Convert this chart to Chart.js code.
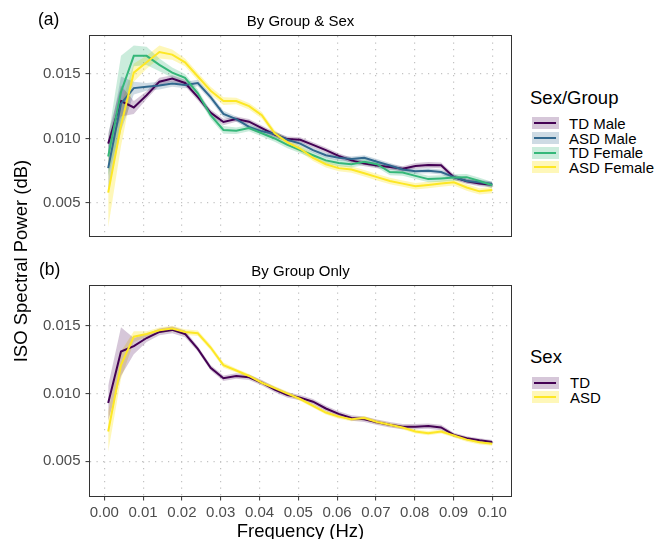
<!DOCTYPE html>
<html>
<head>
<meta charset="utf-8">
<script src="https://cdn.jsdelivr.net/npm/chart.js@4"></script>
<style>
  html, body { margin: 0; padding: 0; background: #fff; overflow: hidden; }
  #wrap { position: relative; width: 657px; height: 539px; overflow: hidden; font-family: "Liberation Sans", Arial, sans-serif; }
  canvas { position: absolute; left: 0; }
  .txt { position: absolute; white-space: nowrap; color: #000; }
  .key { position: absolute; width: 27px; height: 12px; }
  .key span { position: absolute; left: 2px; right: 3px; top: 5px; height: 2px; }
</style>
</head>
<body>
<div id="wrap">
  <canvas id="chartA" width="520" height="250" style="top:0"></canvas>
  <canvas id="chartB" width="520" height="285" style="top:260px"></canvas>

  <div class="txt" style="left:38px; top:11px; font-size:17.5px; line-height:17.5px">(a)</div>
  <div class="txt" style="left:39px; top:261px; font-size:17.5px; line-height:17.5px">(b)</div>
  <div class="txt" style="left:300.5px; top:13px; font-size:15px; line-height:15px; transform:translateX(-50%)">By Group &amp; Sex</div>
  <div class="txt" style="left:300.5px; top:263px; font-size:15px; line-height:15px; transform:translateX(-50%)">By Group Only</div>
  <div class="txt" style="left:20.5px; top:261px; font-size:18.5px; line-height:18.5px; transform:translate(-50%,-50%) rotate(-90deg)">ISO Spectral Power (dB)</div>
</div>

<script>
// frequency bins (Hz)
const freq = [0.0010, 0.0043, 0.0076, 0.0109, 0.0142, 0.0175, 0.0208, 0.0241, 0.0274, 0.0307,
              0.0340, 0.0373, 0.0406, 0.0439, 0.0472, 0.0505, 0.0538, 0.0571, 0.0604, 0.0637,
              0.0670, 0.0703, 0.0736, 0.0769, 0.0802, 0.0835, 0.0868, 0.0901, 0.0934, 0.0967, 0.1000];

// (a) by group & sex
const tdMale    = [0.0096, 0.0129, 0.0124, 0.01335, 0.0144, 0.01465, 0.0143, 0.0132, 0.0120, 0.01128,
                   0.0115, 0.0113, 0.0108, 0.0103, 0.00995, 0.0099, 0.0095, 0.0091, 0.00865, 0.0083,
                   0.00805, 0.0079, 0.00778, 0.00765, 0.00787, 0.00795, 0.00792, 0.0070, 0.00668, 0.0065, 0.00642];
const asdMale   = [0.0077, 0.0127, 0.0139, 0.0140, 0.0141, 0.01425, 0.01415, 0.0143, 0.0132, 0.0119,
                   0.0115, 0.0109, 0.01055, 0.01035, 0.0099, 0.0096, 0.0091, 0.0087, 0.0085, 0.0084,
                   0.0085, 0.0082, 0.0079, 0.0076, 0.00746, 0.0075, 0.0074, 0.0070, 0.0067, 0.0066, 0.00647];
const tdFemale  = [0.0086, 0.0136, 0.0164, 0.0164, 0.0157, 0.0151, 0.0147, 0.0135, 0.0118, 0.01066,
                   0.0106, 0.0108, 0.0104, 0.0100, 0.0095, 0.0091, 0.0087, 0.0083, 0.0081, 0.0080,
                   0.0082, 0.0080, 0.0074, 0.00736, 0.0071, 0.00685, 0.0069, 0.00697, 0.0070, 0.0067, 0.00637];
const asdFemale = [0.0058, 0.0110, 0.0151, 0.0159, 0.0167, 0.0165, 0.0159, 0.0148, 0.0137, 0.0129,
                   0.0129, 0.0125, 0.0118, 0.0104, 0.0097, 0.0092, 0.0085, 0.0080, 0.0077, 0.0076,
                   0.0073, 0.0070, 0.0067, 0.0065, 0.0063, 0.0064, 0.0065, 0.0066, 0.0062, 0.0059, 0.0060];
const tdMaleSe    = [0.0008, 0.0012, 0.0005, 0.0003, 0.0003, 0.00025, 0.00025, 0.00025, 0.00025, 0.00025,
                     0.0002, 0.0002, 0.0002, 0.0002, 0.0002, 0.0002, 0.0002, 0.0002, 0.0002, 0.0002,
                     0.0002, 0.0002, 0.0002, 0.0002, 0.00022, 0.00022, 0.00022, 0.0002, 0.0002, 0.0002, 0.0002];
const asdMaleSe   = [0.0018, 0.0021, 0.0005, 0.0003, 0.0003, 0.00025, 0.00025, 0.00025, 0.00025, 0.00025,
                     0.0002, 0.0002, 0.0002, 0.0002, 0.0002, 0.0002, 0.0002, 0.0002, 0.0002, 0.0002,
                     0.0002, 0.0002, 0.0002, 0.0002, 0.0002, 0.0002, 0.0002, 0.0002, 0.0002, 0.0002, 0.0002];
const tdFemaleSe  = [0.0015, 0.0028, 0.0008, 0.0007, 0.0005, 0.0004, 0.0003, 0.0003, 0.0003, 0.0003,
                     0.00025, 0.00025, 0.00025, 0.00025, 0.00025, 0.00025, 0.00025, 0.00025, 0.00025, 0.00025,
                     0.00025, 0.00025, 0.00025, 0.00025, 0.00025, 0.00025, 0.00025, 0.00025, 0.00025, 0.00025, 0.00025];
const asdFemaleSe = [0.0027, 0.0016, 0.0007, 0.0005, 0.0005, 0.0004, 0.0003, 0.0003, 0.0003, 0.0003,
                     0.00025, 0.00025, 0.00025, 0.00025, 0.00025, 0.00025, 0.00025, 0.00025, 0.00025, 0.00025,
                     0.00025, 0.00025, 0.00025, 0.00025, 0.00025, 0.00025, 0.00025, 0.00025, 0.00025, 0.00025, 0.00025];

// (b) by group only
const tdAll  = [0.0093, 0.0131, 0.0135, 0.0141, 0.01455, 0.0147, 0.0144, 0.0133, 0.0119, 0.01113,
                0.0113, 0.0112, 0.0108, 0.0103, 0.0099, 0.0097, 0.0094, 0.0089, 0.0085, 0.0082,
                0.0081, 0.00788, 0.0077, 0.00756, 0.00756, 0.0076, 0.0075, 0.00695, 0.0067, 0.00655, 0.00643];
const asdAll = [0.0072, 0.0121, 0.0142, 0.0144, 0.01468, 0.0148, 0.01455, 0.01445, 0.0134, 0.0121,
                0.0117, 0.0113, 0.0108, 0.0104, 0.0100, 0.0096, 0.0091, 0.0086, 0.0083, 0.0081,
                0.0082, 0.0079, 0.0077, 0.0075, 0.0072, 0.00708, 0.0072, 0.0069, 0.0066, 0.0064, 0.0063];
const tdAllSe  = [0.0013, 0.0018, 0.0006, 0.0003, 0.00025, 0.00025, 0.00025, 0.0002, 0.0002, 0.0002,
                  0.0002, 0.0002, 0.0002, 0.0002, 0.0002, 0.0002, 0.0002, 0.0002, 0.0002, 0.0002,
                  0.0002, 0.0002, 0.0002, 0.0002, 0.0002, 0.0002, 0.0002, 0.00015, 0.00015, 0.00015, 0.00015];
const asdAllSe = [0.0015, 0.0010, 0.0004, 0.0002, 0.0002, 0.0002, 0.0002, 0.0002, 0.0002, 0.0002,
                  0.00015, 0.00015, 0.00015, 0.00015, 0.00015, 0.00015, 0.00015, 0.00015, 0.00015, 0.00015,
                  0.00015, 0.00015, 0.00015, 0.00015, 0.00015, 0.00015, 0.00015, 0.00015, 0.00015, 0.00015, 0.00015];

const xTicks = [0.00, 0.01, 0.02, 0.03, 0.04, 0.05, 0.06, 0.07, 0.08, 0.09, 0.10];
const yTicks = [0.005, 0.010, 0.015];
const groupSexLabels = ['TD Male', 'ASD Male', 'TD Female', 'ASD Female'];
const groupLabels = ['TD', 'ASD'];

// viridis
const colors = ['#440154', '#31688E', '#35B779', '#FDE725'];
const bands  = ['rgba(68,1,84,0.22)', 'rgba(49,104,142,0.24)', 'rgba(53,183,121,0.26)', 'rgba(253,231,37,0.32)'];

const gridColor = '#c2c2c2';
const tickGray = '#4d4d4d';

function buildSets(series) {
  const sets = [];
  series.forEach(s => {
    const lo = sets.length;
    sets.push({ data: freq.map((f, i) => ({ x: f, y: s.vals[i] - s.se[i] })),
      borderWidth: 0, borderColor: 'transparent', pointRadius: 0, fill: false, order: 1 });
    sets.push({ data: freq.map((f, i) => ({ x: f, y: s.vals[i] + s.se[i] })),
      borderWidth: 0, borderColor: 'transparent', pointRadius: 0, fill: { target: lo },
      backgroundColor: s.band, order: 1 });
  });
  // last series ends up on top
  series.slice().reverse().forEach(s => {
    sets.push({ label: s.label, data: freq.map((f, i) => ({ x: f, y: s.vals[i] })),
      borderColor: s.color, borderWidth: 2, pointRadius: 0, fill: false, tension: 0, order: 0 });
  });
  return sets;
}

const boxPlugin = {
  id: 'box',
  afterDraw(chart) {
    const { ctx, chartArea: a } = chart;
    ctx.save();
    ctx.strokeStyle = '#333333';
    ctx.lineWidth = 1;
    ctx.strokeRect(a.left - 0.5, a.top - 0.5, a.right - a.left + 1, a.bottom - a.top + 1);
    ctx.restore();
  }
};

function makeOptions(showX) {
  return {
    responsive: false,
    animation: false,
    events: [],
    layout: showX ? { padding: { top: 26, right: 9, bottom: 0, left: 0 } }
                  : { padding: { top: 36, right: 9, bottom: 4, left: 0 } },
    plugins: { legend: { display: false }, tooltip: { enabled: false } },
    scales: {
      x: {
        type: 'linear',
        min: -0.00369,
        max: 0.10482,
        afterBuildTicks: s => { s.ticks = xTicks.map(v => ({ value: v })); },
        afterFit: s => { s.height = showX ? 49 : 0; },
        ticks: {
          display: showX,
          padding: 3,
          color: tickGray,
          font: { family: '"Liberation Sans", Arial, sans-serif', size: 15 },
          maxRotation: 0,
          autoSkip: false,
          callback: v => v.toFixed(2)
        },
        grid: { color: gridColor, lineWidth: 1.2, drawTicks: showX, tickLength: 4.5, tickColor: '#333333', tickWidth: 1 },
        border: { display: false, dash: [1.2, 5.3] },
        title: {
          display: showX,
          text: 'Frequency (Hz)',
          color: '#000',
          font: { family: '"Liberation Sans", Arial, sans-serif', size: 18.5 },
          padding: { top: 0, bottom: 1.5 }
        }
      },
      y: {
        min: 0.00244,
        max: 0.01794,
        afterBuildTicks: s => { s.ticks = yTicks.map(v => ({ value: v })); },
        afterFit: s => { s.width = 90; },
        ticks: {
          padding: 5,
          color: tickGray,
          font: { family: '"Liberation Sans", Arial, sans-serif', size: 15 },
          callback: v => v.toFixed(3)
        },
        grid: { color: gridColor, lineWidth: 1.2, drawTicks: true, tickLength: 4.5, tickColor: '#333333', tickWidth: 1 },
        border: { display: false, dash: [1.2, 5.3] }
      }
    }
  };
}

new Chart(document.getElementById('chartA'), {
  type: 'line',
  data: {
    datasets: buildSets([
      { label: groupSexLabels[0], vals: tdMale, se: tdMaleSe, color: colors[0], band: bands[0] },
      { label: groupSexLabels[1], vals: asdMale, se: asdMaleSe, color: colors[1], band: bands[1] },
      { label: groupSexLabels[2], vals: tdFemale, se: tdFemaleSe, color: colors[2], band: bands[2] },
      { label: groupSexLabels[3], vals: asdFemale, se: asdFemaleSe, color: colors[3], band: bands[3] }
    ])
  },
  options: makeOptions(false),
  plugins: [boxPlugin]
});

new Chart(document.getElementById('chartB'), {
  type: 'line',
  data: {
    datasets: buildSets([
      { label: groupLabels[0], vals: tdAll, se: tdAllSe, color: colors[0], band: bands[0] },
      { label: groupLabels[1], vals: asdAll, se: asdAllSe, color: colors[3], band: bands[3] }
    ])
  },
  options: makeOptions(true),
  plugins: [boxPlugin]
});

// legends (html)
const wrap = document.getElementById('wrap');
function addText(text, left, capMid, size) {
  const el = document.createElement('div');
  el.className = 'txt';
  el.textContent = text;
  el.style.left = left + 'px';
  el.style.top = (capMid - size / 2) + 'px';
  el.style.fontSize = size + 'px';
  el.style.lineHeight = size + 'px';
  wrap.appendChild(el);
}
function addKey(left, mid, color, band) {
  const k = document.createElement('div');
  k.className = 'key';
  k.style.left = left + 'px';
  k.style.top = (mid - 6) + 'px';
  k.style.background = band;
  const line = document.createElement('span');
  line.style.background = color;
  k.appendChild(line);
  wrap.appendChild(k);
}

addText('Sex/Group', 530, 98.4, 18.5);
const legAMid = [123.3, 138, 152.8, 167.3];
groupSexLabels.forEach((lab, i) => {
  addKey(532, legAMid[i], colors[i], bands[i]);
  addText(lab, 569, legAMid[i], 15);
});

addText('Sex', 530, 357.5, 18.5);
const legBMid = [382.5, 397];
const legBColor = [0, 3];
groupLabels.forEach((lab, i) => {
  addKey(532, legBMid[i], colors[legBColor[i]], bands[legBColor[i]]);
  addText(lab, 570, legBMid[i], 15);
});
</script>
</body>
</html>
